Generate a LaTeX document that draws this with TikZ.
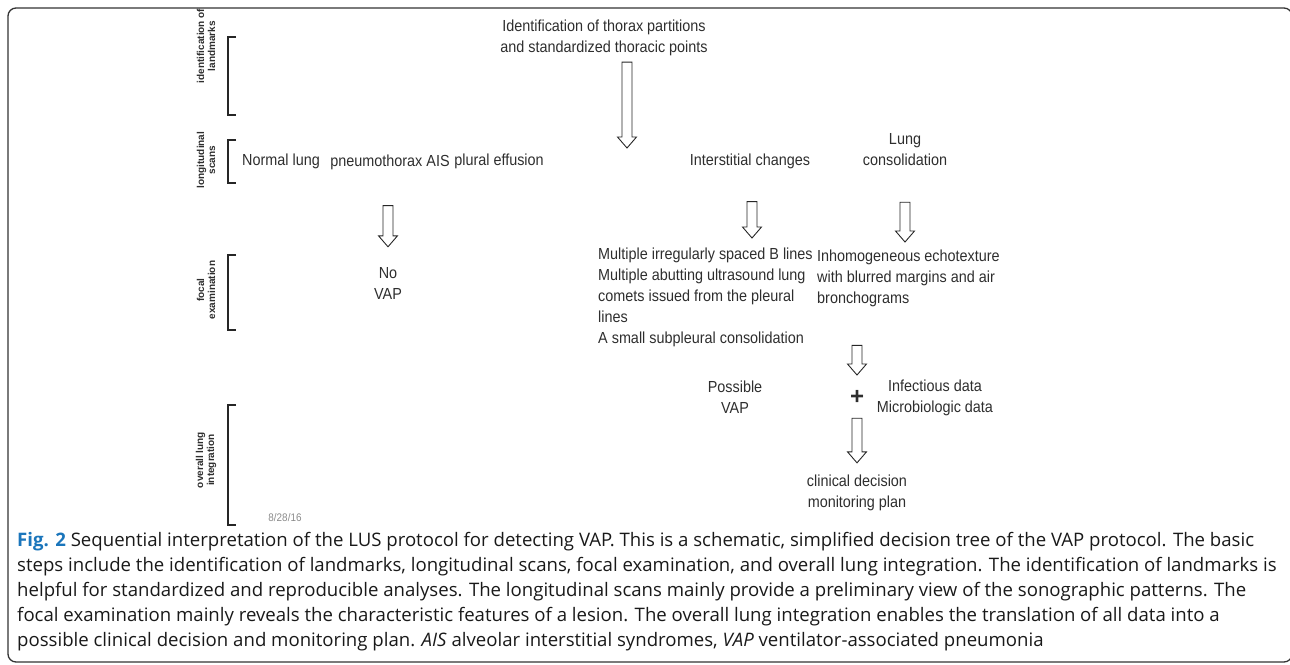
\documentclass[tikz,border=0pt]{standalone}
\usepackage{fontspec}
\usepackage{xcolor}
\usetikzlibrary{calc}
\usetikzlibrary{positioning}
\setmainfont{Liberation Sans}
\newfontfamily\narrowsans[FakeStretch=0.9]{Liberation Sans}
\newfontfamily\capfont{Open Sans}
\definecolor{figblue}{HTML}{1A75BB}
\definecolor{txtgray}{HTML}{2E2E2E}
\definecolor{dategray}{HTML}{8A8A8A}

\tikzset{
  lbl/.style={font=\narrowsans\fontsize{16}{21}\selectfont, text=txtgray, inner sep=0pt, align=center},
  lblleft/.style={lbl, align=left},
  sidelbl/.style={font=\bfseries\fontsize{10}{11}\selectfont, text=txtgray, rotate=90, align=center, inner sep=0pt},
  stage/.style={line width=1.3pt, black!85},
  hollow/.style={draw=black!85, line width=0.9pt, fill=white,
    to path={let \p1=(\tikztostart), \p2=(\tikztotarget) in
      (\x1-5pt,\y1) -- (\x1-5pt,\y2+11pt) -- (\x1-9.5pt,\y2+11pt) -- (\x1,\y2)
      -- (\x1+9.5pt,\y2+11pt) -- (\x1+5pt,\y2+11pt) -- (\x1+5pt,\y1) -- cycle}}
}

\begin{document}
\begin{tikzpicture}[x=1pt,y=-1pt]
\def \bx {228}
\def \tk {8}
\useasboundingbox (0,0) rectangle (1290,664);
\draw[rounded corners=8pt, line width=1.3pt, black!80] (8,8) rectangle (1292,662);

% stage brackets and their labels
\draw[stage] (\bx+\tk,37) -- (\bx,37) -- (\bx,115) -- (\bx+\tk,115);
\draw[stage] (\bx+\tk,140) -- (\bx,140) -- (\bx,183) -- (\bx+\tk,183);
\draw[stage] (\bx+\tk,255) -- (\bx,255) -- (\bx,330) -- (\bx+\tk,330);
\draw[stage] (\bx+\tk,405) -- (\bx,405) -- (\bx,525) -- (\bx+\tk,525);
\node[sidelbl] (landm) at (206,46) {identification of\\landmarks};
\node[sidelbl] (longsc) at (206,160) {longitudinal\\scans};
\node[sidelbl] (focex) at (206,290) {focal\\examination};
\node[sidelbl] (overl) at (206,460) {overall lung\\integration};

% identification of landmarks
\node[lbl] (idt) at (604,38) {Identification of thorax partitions\\and standardized thoracic points};
\coordinate (idtend) at (627,148);
\draw[hollow] ($(idt.south -| idtend)+(0,6)$) to (idtend);

% longitudinal scans
\node[lbl] (normal) at (281,161) {Normal lung};
\node[lbl] (pneu) at (390,162) {pneumothorax AIS};
\node[lbl] (pleff) at (499,161) {plural effusion};
\node[lbl] (intc) at (750,161) {Interstitial changes};
\node[lbl] (lcons) at (905,150) {Lung\\consolidation};

% focal examination
\node[lbl] (novap) at (388,283) {No\\VAP};
\node[lblleft, anchor=north west] (bline) at (598,248) {Multiple irregularly spaced B lines\\Multiple abutting ultrasound lung\\comets issued from the pleural\\lines\\A small subpleural consolidation};
\node[lblleft, anchor=north west] (inhom) at (817,250) {Inhomogeneous echotexture\\with blurred margins and air\\bronchograms};
\draw[hollow] ($(pneu.south)+(-2,36)$) to ($(novap.north)+(-2,-20)$);
\draw[hollow] ($(intc.south)+(2,33)$) to ($(bline.north)+(0,-10)$);
\draw[hollow] ($(lcons.south)+(0,36)$) to ($(inhom.north)+(0,-8)$);

% overall lung integration
\node[lbl] (possvap) at (735,397) {Possible\\VAP};
\node[lbl, font=\bfseries\fontsize{24}{24}\selectfont] (plus) at (857,397) {+};
\node[lbl] (infdat) at (935,398) {Infectious data\\Microbiologic data};
\node[lbl] (clin) at (857,493) {clinical decision\\monitoring plan};
\coordinate (bline5) at (857,375);
\draw[hollow] (bline.south -| bline5) ++(0,-2) to (bline5);
\draw[hollow] ($(plus.south)+(0,14)$) to ($(clin.north)+(0,-12)$);
\node[font=\narrowsans\fontsize{11}{11}\selectfont, text=dategray] (date) at (285,518) {8/28/16};

% caption
\node[anchor=north west, inner sep=0pt, align=left, text=black!90,
  font=\capfont\fontsize{18.6}{25}\selectfont] (capt) at (17,532)
  {\textcolor{figblue}{\textbf{Fig. 2}} Sequential interpretation of the LUS protocol for detecting VAP. This is a schematic, simplified decision tree of the VAP protocol. The basic\\
  steps include the identification of landmarks, longitudinal scans, focal examination, and overall lung integration. The identification of landmarks is\\
  helpful for standardized and reproducible analyses. The longitudinal scans mainly provide a preliminary view of the sonographic patterns. The\\
  focal examination mainly reveals the characteristic features of a lesion. The overall lung integration enables the translation of all data into a\\
  possible clinical decision and monitoring plan. \textit{AIS} alveolar interstitial syndromes, \textit{VAP} ventilator-associated pneumonia};
\end{tikzpicture}
\end{document}
